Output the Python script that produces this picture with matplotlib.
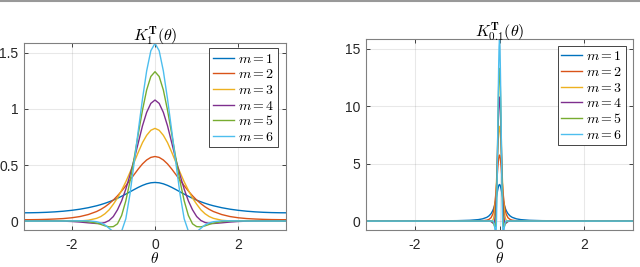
import numpy as np
import matplotlib
matplotlib.use("Agg")
import matplotlib.pyplot as plt
from matplotlib.lines import Line2D

plt.rcParams['mathtext.fontset'] = 'cm'
plt.rcParams['font.family'] = ['Liberation Sans', 'DejaVu Sans']

# ---------- data: left panel (r = 1), theta >= 0, symmetric ----------
theta1 = [0, 0.1, 0.2, 0.3, 0.4, 0.5, 0.6, 0.7, 0.8, 0.9, 1.0, 1.1, 1.2, 1.3, 1.4,
          1.6, 1.8, 2.0, 2.2, 2.4, 2.6, 2.8, 3.0, 3.14159]
k1_m1 = [0.3444, 0.3413, 0.3322, 0.3182, 0.3007, 0.2810, 0.2606, 0.2403, 0.2210, 0.2030,
         0.1865, 0.1717, 0.1584, 0.1466, 0.1362, 0.1190, 0.1057, 0.0955, 0.0877, 0.0820,
         0.0779, 0.0753, 0.0738, 0.0735]
k1_m2 = [0.576, 0.568, 0.545, 0.510, 0.465, 0.415, 0.365, 0.315, 0.268, 0.225,
         0.187, 0.155, 0.127, 0.104, 0.085, 0.058, 0.040, 0.029, 0.022, 0.018,
         0.015, 0.013, 0.012, 0.012]
k1_m3 = [0.827, 0.810, 0.765, 0.700, 0.615, 0.525, 0.435, 0.350, 0.275, 0.205,
         0.150, 0.100, 0.065, 0.040, 0.024, 0.007, 0.001, 0.000, 0.000, 0.001,
         0.002, 0.002, 0.002, 0.002]
k1_m4 = [1.080, 1.050, 0.970, 0.850, 0.700, 0.550, 0.410, 0.285, 0.180, 0.100,
         0.040, 0.005, -0.013, -0.021, -0.022, -0.016, -0.009, -0.004, -0.001, 0.000,
         0.001, 0.001, 0.001, 0.001]
k1_m5 = [1.333, 1.290, 1.170, 0.990, 0.780, 0.560, 0.355, 0.180, 0.050, -0.025,
         -0.050, -0.052, -0.043, -0.030, -0.019, -0.006, 0.000, 0.001, 0.001, 0.000,
         0.000, 0.000, 0.000, 0.000]
k1_m6 = [1.586, 1.520, 1.340, 1.090, 0.810, 0.520, 0.240, 0.020, -0.090, -0.110,
         -0.095, -0.065, -0.035, -0.017, -0.006, 0.002, 0.002, 0.001, 0.000, 0.000,
         0.000, 0.000, 0.000, 0.000]

# ---------- data: right panel (r = 0.1), theta >= 0, symmetric ----------
theta2 = [0, 0.01, 0.02, 0.03, 0.04, 0.05, 0.06, 0.07, 0.08, 0.09, 0.10, 0.12, 0.14,
          0.16, 0.20, 0.25, 0.30, 0.40, 0.50, 0.70, 1.00, 1.50, 2.00, 2.50, 3.14159]
k2_m1 = [3.186, 3.154, 3.063, 2.923, 2.747, 2.549, 2.343, 2.139, 1.943, 1.761, 1.594,
         1.307, 1.078, 0.897, 0.639, 0.442, 0.321, 0.190, 0.125, 0.066, 0.034, 0.017,
         0.011, 0.0088, 0.0080]
k2_m2 = [5.75, 5.67, 5.45, 5.10, 4.65, 4.15, 3.65, 3.15, 2.68, 2.25, 1.87, 1.27, 0.85,
         0.58, 0.29, 0.14, 0.075, 0.028, 0.013, 0.004, 0.002, 0.001, 0.0005, 0.0003, 0.0003]
k2_m3 = [8.25, 8.10, 7.65, 7.00, 6.15, 5.25, 4.35, 3.50, 2.75, 2.05, 1.50, 0.60, 0.22,
         0.06, -0.02, -0.01, -0.005, 0.0, 0.0, 0.0, 0.0, 0.0, 0.0, 0.0, 0.0]
k2_m4 = [10.8, 10.5, 9.70, 8.50, 7.00, 5.50, 4.10, 2.85, 1.80, 1.00, 0.40, -0.13, -0.22,
         -0.16, -0.04, -0.005, 0.0, 0.0, 0.0, 0.0, 0.0, 0.0, 0.0, 0.0, 0.0]
k2_m5 = [13.3, 12.9, 11.7, 9.90, 7.80, 5.60, 3.55, 1.80, 0.50, -0.25, -0.50, -0.43, -0.19,
         -0.06, 0.01, 0.0, 0.0, 0.0, 0.0, 0.0, 0.0, 0.0, 0.0, 0.0, 0.0]
k2_m6 = [15.84, 15.2, 13.4, 10.9, 8.10, 5.20, 2.40, 0.20, -0.90, -1.10, -0.95, -0.35, -0.06,
         0.02, 0.0, 0.0, 0.0, 0.0, 0.0, 0.0, 0.0, 0.0, 0.0, 0.0, 0.0]

labels = ['$m=1$', '$m=2$', '$m=3$', '$m=4$', '$m=5$', '$m=6$']
colors = [(0, 0.447, 0.741), (0.85, 0.325, 0.098), (0.929, 0.694, 0.125),
          (0.494, 0.184, 0.556), (0.466, 0.674, 0.188), (0.301, 0.745, 0.933)]


def full(th, v):
    th = np.asarray(th, float)
    v = np.asarray(v, float)
    return np.concatenate([-th[:0:-1], th]), np.concatenate([v[:0:-1], v])


fig = plt.figure(figsize=(6.4, 2.67), dpi=100)
W, H = 640, 267
axL = fig.add_axes([24 / W, (H - 230) / H, 262 / W, 187 / H])
axR = fig.add_axes([366 / W, (H - 230) / H, 267 / W, 190.7 / H])

tickc = (0.15, 0.15, 0.15)


def style(ax, xt, yt, ytl, ylim, title):
    ax.set_xlim(-np.pi, np.pi)
    ax.set_ylim(*ylim)
    ax.set_xticks(xt)
    ax.set_xticklabels(['-2', '0', '2'])
    ax.set_yticks(yt)
    ax.set_yticklabels(ytl)
    ax.grid(True, color=(0.15, 0.15, 0.15), alpha=0.1, lw=0.8)
    ax.set_axisbelow(True)
    ax.tick_params(direction='in', length=3, width=0.6, labelsize=10, colors=tickc,
                   top=True, right=True)
    ax.tick_params(axis='x', pad=6)
    ax.tick_params(axis='y', pad=4)
    for s in ax.spines.values():
        s.set_color((0.5, 0.5, 0.5))
        s.set_linewidth(0.8)
    ax.set_xlabel(r'$\theta$', fontsize=11, labelpad=-1)
    ax.set_title(title, fontsize=11.5, pad=2)


sets = [(axL, theta1, [k1_m1, k1_m2, k1_m3, k1_m4, k1_m5, k1_m6]),
        (axR, theta2, [k2_m1, k2_m2, k2_m3, k2_m4, k2_m5, k2_m6])]
for ax, th, ys in sets:
    for y, c, lab in zip(ys, colors, labels):
        x, yy = full(th, y)
        ax.plot(x, yy, color=c, lw=1.0, label=lab)

style(axL, [-2, 0, 2], [0, 0.5, 1, 1.5], ['0', '0.5', '1', '1.5'], (-0.08, 1.589),
      r'$K_1^{\mathbf{T}}(\theta)$')
style(axR, [-2, 0, 2], [0, 5, 10, 15], ['0', '5', '10', '15'], (-0.78, 15.84),
      r'$K_{0.1}^{\mathbf{T}}(\theta)$')

anchors = [(0.969, 0.973), (0.974, 0.966)]
for ax, anc in zip((axL, axR), anchors):
    leg = ax.legend(loc='upper right', bbox_to_anchor=anc, fontsize=10, handlelength=1.5,
                    handletextpad=0.3, labelspacing=0.12, borderpad=0.25, borderaxespad=0,
                    fancybox=False, framealpha=1, edgecolor=(0.15, 0.15, 0.15))
    leg.get_frame().set_linewidth(0.6)

fig.add_artist(Line2D([0, 1], [1 - 1.0 / H, 1 - 1.0 / H], color=(0.6, 0.6, 0.6), lw=1.5))

fig.savefig('out.png', dpi=100)
